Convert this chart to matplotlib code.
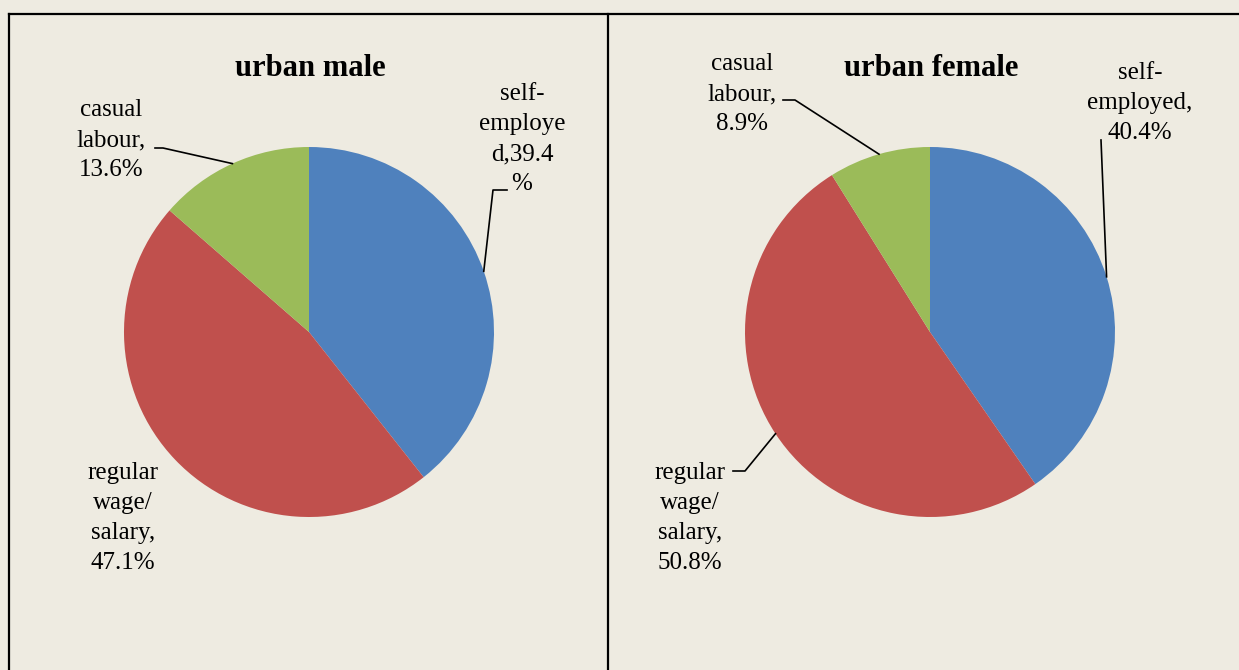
import numpy as np
import matplotlib.pyplot as plt

plt.rcParams['font.family'] = ['Liberation Serif', 'DejaVu Serif']

# data
categories = ['self-employed', 'regular wage/salary', 'casual labour']
male = [39.4, 47.1, 13.6]
female = [40.4, 50.8, 8.9]
colors = ['#4F81BD', '#C0504D', '#9BBB59']

male_labels = ['self-\nemploye\nd,39.4\n%', 'regular\nwage/\nsalary,\n47.1%', 'casual\nlabour,\n13.6%']
female_labels = ['self-\nemployed,\n40.4%', 'regular\nwage/\nsalary,\n50.8%', 'casual\nlabour,\n8.9%']

W, H = 1239, 670
bg = '#EEEBE1'
fig = plt.figure(figsize=(W / 100, H / 100), dpi=100, facecolor=bg)
ax = fig.add_axes([0, 0, 1, 1])

R = 185
def Y(y):  # pixel row -> data y
    return H - y

# frame lines
ax.plot([9, W], [Y(14), Y(14)], color='black', lw=1.6)
ax.plot([9, 9], [Y(14), 0], color='black', lw=1.6)
ax.plot([608, 608], [Y(14), 0], color='black', lw=1.6)

def mid_point(vals, i, cx, cy):
    frac = np.cumsum([0] + list(vals)) / sum(vals)
    ang = np.deg2rad(90 - 360 * (frac[i] + frac[i + 1]) / 2)
    return cx + R * np.cos(ang), cy + R * np.sin(ang)

# label centres and leader stubs (pixel rows)
panels = [
    (male, male_labels, 309, 'urban male',
     [(522, 139), (123, 518), (111, 140)],
     [[(507, 190), (493, 190)], None, [(155, 148), (163, 148)]]),
    (female, female_labels, 930, 'urban female',
     [(1140, 103), (690, 518), (742, 94)],
     [[(1101, 140)], [(733, 471), (745, 471)], [(783, 100), (795, 100)]]),
]

for vals, labels, cx, title, lpos, leaders in panels:
    cy = Y(332)
    ax.pie(vals, colors=colors, startangle=90, counterclock=False,
           radius=R, center=(cx, cy), frame=True,
           wedgeprops=dict(linewidth=0))
    ax.text(cx + 1, Y(69), title, ha='center', va='center',
            fontsize=22, fontweight='bold')
    for i, lab in enumerate(labels):
        tx, ty = lpos[i]
        ax.text(tx, Y(ty), lab, ha='center', va='center', fontsize=18,
                linespacing=1.48)
        if leaders[i] is not None:
            px, py = mid_point(vals, i, cx, cy)
            lx = [x for x, y in leaders[i]] + [px]
            ly = [Y(y) for x, y in leaders[i]] + [py]
            ax.plot(lx, ly, color='black', lw=1.2)

ax.set_xlim(0, W)
ax.set_ylim(0, H)
ax.set_aspect('equal')
ax.axis('off')
fig.savefig('out.png', dpi=100, facecolor=bg)
